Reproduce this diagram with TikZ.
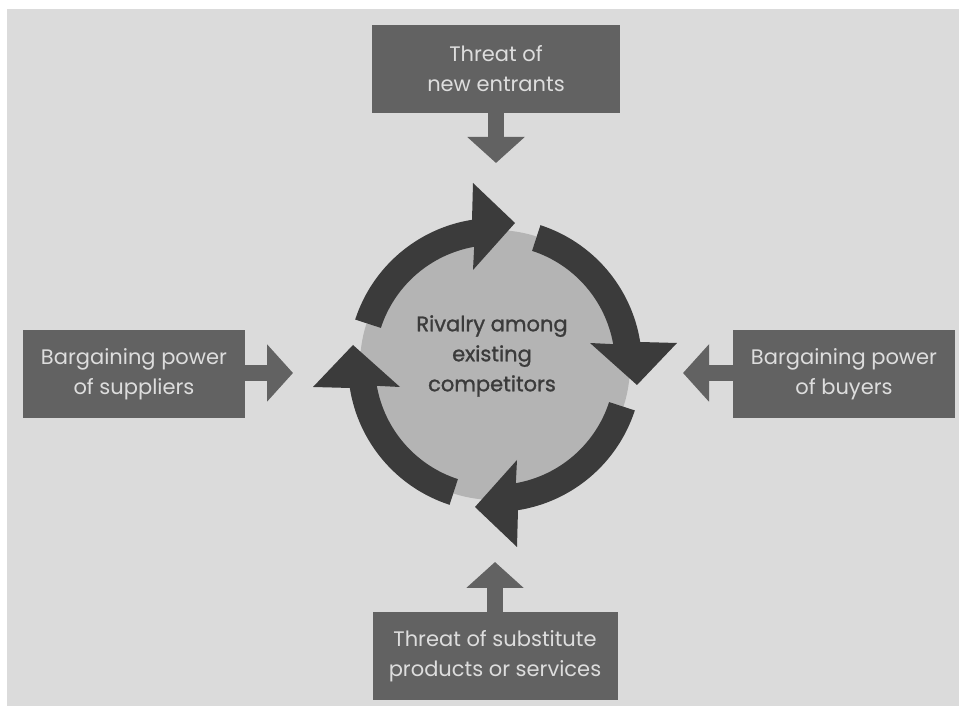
\documentclass[tikz,border=0pt]{standalone}
\usepackage{fontspec}
\setmainfont{Poppins}
\newfontfamily\rivalryfont{Poppins}[FakeBold=1.2]
\usetikzlibrary{arrows.meta, positioning}
\definecolor{bggrey}{HTML}{DBDBDB}
\definecolor{boxgrey}{HTML}{626262}
\definecolor{boxtext}{HTML}{DDDDDD}
\definecolor{diskgrey}{HTML}{B4B4B4}
\definecolor{ringgrey}{HTML}{3B3B3B}

\begin{document}
\begin{tikzpicture}[x=1pt, y=1pt,
    force/.style={fill=boxgrey, text=boxtext, minimum height=88pt, align=center,
      inner sep=0pt, font=\fontsize{21}{30}\selectfont},
    push/.style={boxgrey, line width=16pt, -{Triangle[width=56pt, length=26pt]}}]
  \useasboundingbox (0,0) rectangle (959,706);
  \fill[bggrey] (7,0) rectangle (959,697);

  % the cycle in the middle
  \fill[diskgrey] (495,341) circle (135pt);
  \foreach \turn in {0,90,180,270}
    \fill[ringgrey, shift={(495,341)}, rotate=-\turn]
      (162:147pt) arc[start angle=162, end angle=99, radius=147pt]
      -- (-22,182) -- (20,142) -- (-22,95) -- (100:120pt)
      arc[start angle=100, end angle=162, radius=120pt] -- cycle;
  \node[text=ringgrey, align=center, font=\rivalryfont\fontsize{21}{30}\selectfont] (rivalry)
    at (492,350) {Rivalry among\\existing\\competitors};

  % the four forces
  \node[force, minimum width=248pt] (entrants) at (496,637) {Threat of\\new entrants};
  \node[force, minimum width=222pt] (suppliers) at (134,332) {Bargaining power\\of suppliers};
  \node[force, minimum width=222pt] (buyers) at (844,332) {Bargaining power\\of buyers};
  \node[force, minimum width=245pt] (substitutes) at (495,50) {Threat of substitute\\products or services};

  \coordinate (entrantsTip) at (496,543);
  \coordinate (suppliersTip) at (293,333);
  \coordinate (buyersTip) at (683,333);
  \coordinate (substitutesTip) at (495,144);
  \draw[push] (entrants) -- (entrantsTip);
  \draw[push] (suppliers.east |- suppliersTip) -- (suppliersTip);
  \draw[push] (buyers.west |- buyersTip) -- (buyersTip);
  \draw[push] (substitutes) -- (substitutesTip);
\end{tikzpicture}
\end{document}
